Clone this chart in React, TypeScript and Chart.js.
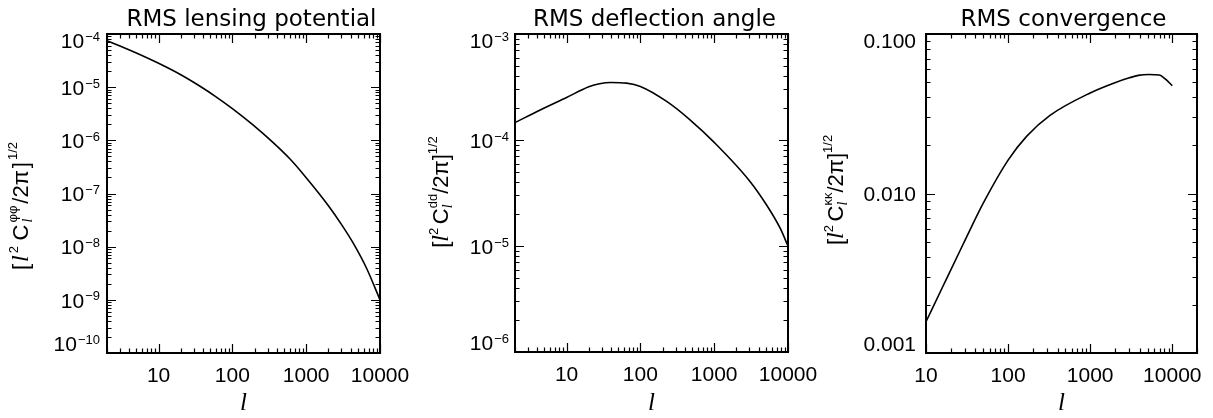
import React, { useEffect, useRef } from "react";
import { Chart, registerables } from "chart.js";

Chart.register(...registerables);

// ---- Data ----
const potentialL = [2, 3, 5, 10, 20, 36, 60, 100, 190, 360, 600, 1000, 2000, 3000, 4300, 6600, 10000];
const potentialRms = [7.5e-5, 5.96e-5, 4.39e-5, 2.81e-5, 1.71e-5, 1.05e-5, 6.59e-6, 3.95e-6, 1.95e-6, 8.95e-7, 4.49e-7, 1.98e-7, 5.89e-8, 2.63e-8, 1.19e-8, 3.89e-9, 1.0e-9];

const deflectionL = [2, 4.4, 10, 20, 28, 40, 65, 100, 227, 470, 1000, 3000, 5100, 7800, 10000];
const deflectionRms = [1.46e-4, 1.92e-4, 2.52e-4, 3.18e-4, 3.4e-4, 3.49e-4, 3.44e-4, 3.2e-4, 2.31e-4, 1.55e-4, 9.5e-5, 4.13e-5, 2.45e-5, 1.48e-5, 1.0e-5];

const convergenceL = [10, 16.3, 28.5, 50, 100, 169, 324, 1000, 2000, 3000, 3850, 5200, 6950, 8130, 10000];
const convergenceRms = [1.57e-3, 2.66e-3, 4.84e-3, 8.73e-3, 0.0162, 0.0229, 0.0309, 0.0427, 0.0495, 0.0531, 0.055, 0.0557, 0.0553, 0.0525, 0.0474];

const titles = ["RMS lensing potential", "RMS deflection angle", "RMS convergence"];
const spectrumSymbols = ["φφ", "dd", "κκ"];

// ---- Layout / style ----
const W = 1213;
const H = 418;
const TICK_FONT = '"Liberation Sans", Arial, sans-serif';

type Panel = {
  title: string;
  sym: string;
  xs: number[];
  ys: number[];
  xMin: number;
  xMax: number;
  yMin: number;
  yMax: number;
  yFmt: "pow" | "fixed";
  area: { left: number; right: number; top: number; bottom: number };
  titleDx: number;
  yTitleX: number;
  yTitleCy: number;
  spread: number;
  labelGap: number;
};

const panels: Panel[] = [
  {
    title: titles[0], sym: spectrumSymbols[0], xs: potentialL, ys: potentialRms,
    xMin: 2, xMax: 10000, yMin: 1e-10, yMax: 1e-4, yFmt: "pow",
    area: { left: 107, right: 380, top: 34, bottom: 353 },
    titleDx: 8, yTitleX: 22, yTitleCy: 206, spread: 2, labelGap: 7,
  },
  {
    title: titles[1], sym: spectrumSymbols[1], xs: deflectionL, ys: deflectionRms,
    xMin: 2, xMax: 10000, yMin: 1e-6, yMax: 1e-3, yFmt: "pow",
    area: { left: 515, right: 788, top: 34, bottom: 352 },
    titleDx: 3, yTitleX: 442, yTitleCy: 192, spread: 0, labelGap: 6,
  },
  {
    title: titles[2], sym: spectrumSymbols[2], xs: convergenceL, ys: convergenceRms,
    xMin: 10, xMax: 20000, yMin: 0.001, yMax: 0.1, yFmt: "fixed",
    area: { left: 926, right: 1197, top: 34, bottom: 353 },
    titleDx: 2, yTitleX: 837, yTitleCy: 190, spread: 0, labelGap: 10,
  },
];

const isDecade = (v: number) => {
  const l = Math.log10(v);
  return Math.abs(l - Math.round(l)) < 1e-6;
};

function drawLogTicks(ctx: CanvasRenderingContext2D, scale: any, horizontal: boolean, a: any) {
  const lo = Math.floor(Math.log10(scale.min));
  const hi = Math.ceil(Math.log10(scale.max));
  ctx.beginPath();
  for (let e = lo; e <= hi; e++) {
    for (let m = 1; m <= 9; m++) {
      const v = m * Math.pow(10, e);
      if (v < scale.min * 0.9999 || v > scale.max * 1.0001) continue;
      const len = m === 1 ? 9 : 4.5;
      const p = Math.round(scale.getPixelForValue(v)) + 0.5;
      if (horizontal) {
        ctx.moveTo(p, a.bottom);
        ctx.lineTo(p, a.bottom - len);
        ctx.moveTo(p, a.top);
        ctx.lineTo(p, a.top + len);
      } else {
        ctx.moveTo(a.left, p);
        ctx.lineTo(a.left + len, p);
        ctx.moveTo(a.right, p);
        ctx.lineTo(a.right - len, p);
      }
    }
  }
  ctx.stroke();
}

function drawYTitle(ctx: CanvasRenderingContext2D, cx: number, cy: number, sym: string, spread: number) {
  const big = '22px "Liberation Sans", Arial, sans-serif';
  const bigI = 'italic 24px "Liberation Serif", serif';
  const small = '13px "Liberation Sans", Arial, sans-serif';
  const smallI = 'italic 14px "Liberation Serif", serif';
  type Seg = { parts: { t: string; f: string; dy: number }[] };
  const segs: Seg[] = [
    { parts: [{ t: "[", f: big, dy: 0 }] },
    { parts: [{ t: "l", f: bigI, dy: 0 }] },
    { parts: [{ t: "2 ", f: small, dy: -8 }] },
    { parts: [{ t: "C", f: big, dy: 0 }] },
    { parts: [{ t: sym, f: small, dy: -9 }, { t: "l", f: smallI, dy: 6 }] },
    { parts: [{ t: "/2π", f: big, dy: 0 }] },
    { parts: [{ t: "]", f: big, dy: 0 }] },
    { parts: [{ t: "1/2", f: small, dy: -9 }] },
  ];
  const widths = segs.map((s) =>
    Math.max(
      ...s.parts.map((p) => {
        ctx.font = p.f;
        return ctx.measureText(p.t).width;
      })
    )
  );
  const total = widths.reduce((s, w) => s + w, 0) + spread * (segs.length - 1);
  ctx.save();
  ctx.translate(cx, cy);
  ctx.rotate(-Math.PI / 2);
  ctx.fillStyle = "#000";
  ctx.textBaseline = "middle";
  ctx.textAlign = "left";
  let x = -total / 2;
  segs.forEach((s, i) => {
    s.parts.forEach((p) => {
      ctx.font = p.f;
      ctx.fillText(p.t, x, p.dy);
    });
    x += widths[i] + spread;
  });
  ctx.restore();
}

const decorPlugin = {
  id: "decor",
  afterDraw(chart: any, _args: any, opts: any) {
    const p: Panel = opts.panel;
    const ctx: CanvasRenderingContext2D = chart.ctx;
    const a = chart.chartArea;
    const xs = chart.scales.x;
    const ys = chart.scales.y;
    ctx.save();
    ctx.strokeStyle = "#000";
    ctx.fillStyle = "#000";

    // inward tick marks on all four sides
    ctx.lineWidth = 1.2;
    drawLogTicks(ctx, xs, true, a);
    drawLogTicks(ctx, ys, false, a);

    // frame
    ctx.lineWidth = 2;
    ctx.strokeRect(a.left, a.top, a.right - a.left, a.bottom - a.top);

    // y tick labels
    const lo = Math.round(Math.log10(ys.min));
    const hi = Math.round(Math.log10(ys.max));
    const right = a.left - p.labelGap;
    ctx.textAlign = "right";
    ctx.textBaseline = "middle";
    for (let e = lo; e <= hi; e++) {
      const v = Math.pow(10, e);
      let py = ys.getPixelForValue(v);
      if (e === hi) py += 8;
      else if (e === lo) py -= 8;
      else py += 2;
      if (p.yFmt === "pow") {
        const ex = (e < 0 ? "−" : "") + Math.abs(e);
        ctx.font = "13px " + TICK_FONT;
        const ew = ctx.measureText(ex).width;
        ctx.fillText(ex, right, py - 5);
        ctx.font = "21px " + TICK_FONT;
        ctx.fillText("10", right - ew - 1, py);
      } else {
        ctx.font = "21px " + TICK_FONT;
        ctx.fillText(v.toFixed(3), right, py);
      }
    }

    // panel title
    ctx.font = '23px "DejaVu Sans", sans-serif';
    ctx.textAlign = "center";
    ctx.textBaseline = "alphabetic";
    ctx.fillText(p.title, (a.left + a.right) / 2 + p.titleDx, 26);

    // x axis title
    ctx.font = 'italic 25px "Liberation Serif", serif';
    ctx.textBaseline = "middle";
    ctx.fillText("l", (a.left + a.right) / 2, 403);

    // y axis title
    drawYTitle(ctx, p.yTitleX, p.yTitleCy, p.sym, p.spread);
    ctx.restore();
  },
};

function LogPanel({ panel }: { panel: Panel }) {
  const ref = useRef<HTMLCanvasElement>(null);
  useEffect(() => {
    const a = panel.area;
    const chart = new Chart(ref.current as HTMLCanvasElement, {
      type: "line",
      data: {
        datasets: [
          {
            data: panel.xs.map((x, i) => ({ x, y: panel.ys[i] })),
            borderColor: "#000",
            borderWidth: 1.6,
            pointRadius: 0,
            fill: false,
            cubicInterpolationMode: "monotone",
          },
        ],
      },
      options: {
        responsive: false,
        animation: false,
        devicePixelRatio: 1,
        events: [],
        parsing: false as any,
        layout: {
          autoPadding: false,
          padding: { left: a.left - 60, right: W - a.right, top: a.top, bottom: 0 },
        },
        plugins: {
          legend: { display: false },
          tooltip: { enabled: false },
          title: { display: false },
          decor: { panel },
        } as any,
        scales: {
          x: {
            type: "logarithmic",
            min: panel.xMin,
            max: panel.xMax,
            grid: { display: false, drawTicks: false },
            border: { display: false },
            ticks: {
              autoSkip: false,
              maxRotation: 0,
              minRotation: 0,
              padding: 11,
              color: "#000",
              font: { family: TICK_FONT, size: 21 },
              callback: (value: any) => {
                const v = Number(value);
                return isDecade(v) && v >= 10 ? String(Math.round(v)) : "";
              },
            },
            afterFit: (s: any) => {
              s.height = H - a.bottom;
              s.paddingLeft = 0;
              s.paddingRight = 0;
            },
          },
          y: {
            type: "logarithmic",
            min: panel.yMin,
            max: panel.yMax,
            grid: { display: false, drawTicks: false },
            border: { display: false },
            ticks: { display: false },
            afterFit: (s: any) => {
              s.width = 60;
              s.paddingTop = 0;
              s.paddingBottom = 0;
            },
          },
        },
      } as any,
      plugins: [decorPlugin],
    });
    return () => chart.destroy();
  }, [panel]);
  return (
    <canvas
      ref={ref}
      width={W}
      height={H}
      style={{ position: "absolute", left: 0, top: 0, width: W, height: H }}
    />
  );
}

export default function App() {
  return (
    <div style={{ position: "fixed", left: 0, top: 0, width: W, height: H, background: "#fff" }}>
      {panels.map((p, i) => (
        <LogPanel key={i} panel={p} />
      ))}
    </div>
  );
}
